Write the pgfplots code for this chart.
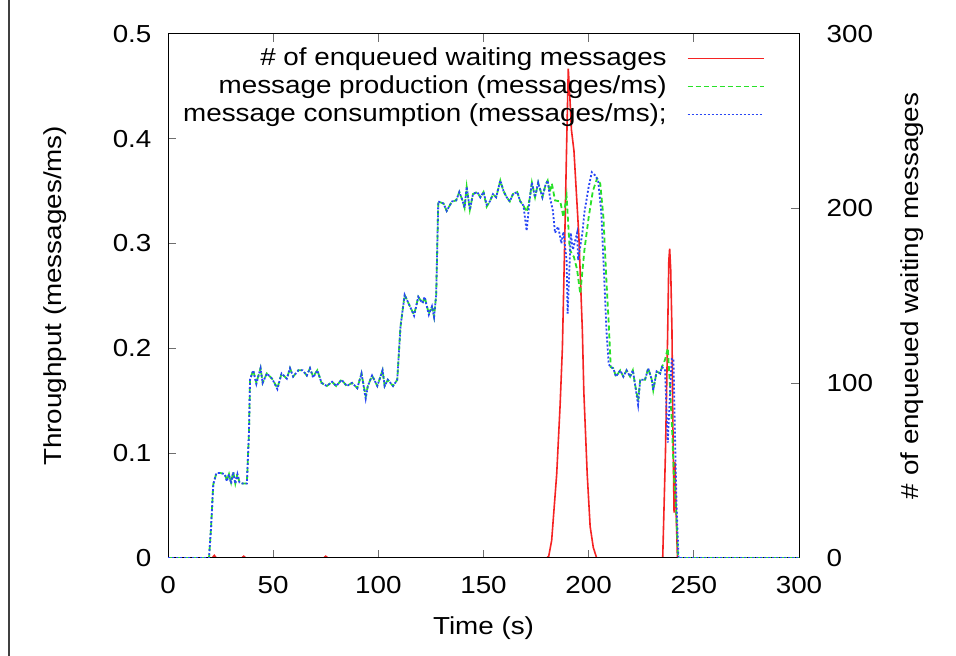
\documentclass[border=0pt]{standalone}
\usepackage{pgfplots}
\usepackage{pgfplotstable}
\pgfplotsset{compat=1.18}
\usepackage{fontspec}
\setmainfont{Liberation Sans}[FakeStretch=1.13]
\definecolor{gred}{RGB}{245,35,35}
\definecolor{ggreen}{RGB}{40,225,40}
\definecolor{gblue}{RGB}{40,70,245}
\definecolor{tickgray}{RGB}{110,110,110}

\pgfplotstableread{
t v
0 0
21 0
22 1.5
23 0
35 0
36 1
37 0
74 0
75 1
76 0
180 0
181 1
182.4 10
184.8 48
186.4 87
187.5 120
188.5 175
189.5 235
190.3 280
191.0 265
191.8 245
193.0 233
195.3 185
197.0 130
197.7 95
199.3 48
200.7 18
202.2 6
203.8 0
235.2 0
236.5 60
237.5 125
238.1 170
238.5 177
239.0 165
239.6 130
240.0 79
240.6 26
241.0 55
241.5 30
242.2 0
300 0
}\queue

\pgfplotstableread{
t v
0 0
19.5 0
20.5 0.03
21.5 0.07
23 0.081
25 0.081
27 0.080
28 0.074
29 0.080
30 0.072
31 0.082
32 0.071
33 0.080
34 0.072
35.5 0.071
37.5 0.071
38.5 0.12
39 0.170
40.5 0.179
42 0.167
44 0.181
45 0.167
47 0.176
49.5 0.171
52 0.162
54 0.176
56.5 0.171
58 0.181
59.5 0.173
62 0.179
64 0.179
66 0.174
67.5 0.181
69 0.173
71 0.179
73 0.167
75.5 0.164
78 0.168
80 0.164
82.5 0.170
85 0.164
87.5 0.167
90 0.162
92 0.176
94 0.154
95 0.164
97 0.174
99.5 0.164
102 0.179
103 0.164
104.5 0.170
107 0.164
109 0.170
110.5 0.22
112.5 0.251
115 0.240
117 0.232
119 0.249
121 0.243
122 0.249
124 0.233
125.5 0.240
126.5 0.230
127.5 0.251
128.5 0.340
131 0.338
132.5 0.331
135 0.340
137 0.341
138.5 0.349
140 0.341
141 0.334
142 0.354
143.5 0.332
145 0.347
147 0.349
148.5 0.344
150 0.349
151.5 0.335
153 0.340
154.5 0.347
156 0.344
158 0.360
159.5 0.350
161 0.344
162.5 0.340
164 0.347
166 0.349
167.5 0.340
169 0.336
170.5 0.330
172 0.343
173 0.358
174.5 0.344
176 0.358
178 0.344
179.5 0.356
180.5 0.360
181.5 0.349
182.5 0.357
184 0.341
186.5 0.340
188 0.325
189.5 0.345
191 0.294
193 0.287
194.5 0.275
196 0.252
198 0.294
200 0.325
202 0.350
204 0.362
205.5 0.357
207 0.325
208.5 0.262
209.5 0.225
210.5 0.182
211.7 0.181
213 0.173
215 0.179
216.5 0.173
218 0.179
219.7 0.173
221 0.179
222 0.166
223.5 0.150
224.5 0.170
226.8 0.170
228.3 0.181
230 0.170
230.7 0.160
232.3 0.178
234 0.176
234.8 0.182
236.3 0.189
237.6 0.200
238.5 0.17
239.5 0.13
240.5 0.08
241.5 0.05
242.5 0
300 0
}\production

\pgfplotstableread{
t v
0 0
19.5 0
20.5 0.03
21.5 0.07
23 0.081
25 0.081
27 0.080
28 0.073
29 0.080
30 0.071
31 0.082
32 0.071
33 0.080
34 0.072
35.5 0.071
37.5 0.071
38.5 0.12
39 0.170
40.5 0.179
42 0.166
44 0.181
45 0.167
47 0.176
49.5 0.171
52 0.161
54 0.176
56.5 0.171
58 0.181
59.5 0.173
62 0.179
64 0.179
66 0.174
67.5 0.181
69 0.172
71 0.179
73 0.167
75.5 0.164
78 0.168
80 0.164
82.5 0.170
85 0.164
87.5 0.167
90 0.162
92 0.176
94 0.152
95 0.164
97 0.174
99.5 0.164
102 0.179
103 0.164
104.5 0.170
107 0.164
109 0.170
110.5 0.22
112.5 0.251
115 0.240
117 0.231
119 0.249
121 0.243
122 0.249
124 0.232
125.5 0.240
126.5 0.230
127.5 0.251
128.5 0.340
131 0.338
132.5 0.331
135 0.340
137 0.341
138.5 0.349
140 0.341
141 0.334
142 0.354
143.5 0.332
145 0.347
147 0.349
148.5 0.344
150 0.349
151.5 0.337
153 0.340
154.5 0.347
156 0.344
158 0.360
159.5 0.350
161 0.344
162.5 0.340
164 0.347
166 0.349
167.5 0.340
169 0.336
170.5 0.312
172 0.343
173 0.358
174.5 0.344
176 0.358
178 0.344
179.5 0.356
180.5 0.360
181.5 0.345
183 0.331
184 0.310
185.5 0.316
187 0.300
188 0.311
189.5 0.284
190 0.233
191.5 0.310
192.5 0.294
194.5 0.310
195 0.284
197 0.310
198 0.330
200 0.354
201.5 0.368
203 0.365
204.5 0.360
206 0.330
207.5 0.262
208.5 0.215
209.5 0.185
210.5 0.182
211.7 0.181
213 0.173
215 0.179
216.5 0.173
218 0.179
219.7 0.173
221 0.179
222 0.166
223.5 0.146
224.5 0.170
226.8 0.170
228.3 0.181
230 0.170
230.7 0.160
232.3 0.178
234 0.176
234.8 0.182
236.3 0.180
237 0.140
237.6 0.110
238.5 0.150
239.5 0.190
240.3 0.190
241 0.120
241.8 0.050
242.7 0
300 0
}\consumption

\begin{document}
\fontsize{12.3}{14}\selectfont
\begin{tikzpicture}
\useasboundingbox (0,0) rectangle (478pt,328pt);
\draw[line width=0.7pt, black!75] (4.5pt,0) -- (4.5pt,328pt);
\pgfplotsset{
  common/.style={
    scale only axis, width=315.5pt, height=262.15pt,
    at={(84pt,49pt)}, anchor=south west,
    xmin=0, xmax=300,
    axis line style={line width=0.5pt, black},
    major tick length=4pt,
    tick style={tickgray, line width=0.5pt},
    tick align=inside,
    /pgf/number format/assume math mode=true,
    every tick label/.append style={font=\fontsize{12.3}{14}\selectfont},
    label style={font=\fontsize{12.3}{14}\selectfont},
  },
}
\begin{axis}[common,
  ymin=0, ymax=300,
  axis y line*=right, axis x line=none,
  ytick={0,100,200,300},
  yticklabel style={xshift=9.5pt},
  ylabel={\# of enqueued waiting messages},
  every axis y label/.style={at={(axis description cs:1.179,0.5)}, rotate=90, anchor=center},
]
\addplot[gred, line width=0.8pt, mark=none] table[x=t, y=v] {\queue};
\end{axis}
\begin{axis}[common,
  ymin=0, ymax=0.5,
  ytick={0,0.1,0.2,0.3,0.4,0.5},
  yticklabels={0,0.1,0.2,0.3,0.4,0.5},
  ytick pos=left,
  xtick={0,50,100,150,200,250,300},
  xtick pos=both,
  yticklabel style={xshift=-4pt},
  xticklabel style={yshift=-5pt},
  xlabel={Time (s)},
  ylabel={Throughput (messages/ms)},
  every axis x label/.style={at={(axis description cs:0.5,-0.1335)}, anchor=center},
  every axis y label/.style={at={(axis description cs:-0.179,0.5)}, rotate=90, anchor=center},
  legend cell align=right,
  legend plot pos=right,
  legend image code/.code={\draw[#1] (0pt,0pt) -- (38pt,0pt);},
  legend style={at={(axis description cs:0.946,0.98)}, anchor=north east,
    draw=none, fill=none, inner sep=0pt, row sep=0pt, column sep=9pt,
    nodes={inner sep=1pt, text height=9.5pt, text depth=2.5pt, font=\fontsize{12.3}{14}\selectfont}},
]
\addlegendimage{color=gred, solid, line width=0.8pt}
\addlegendentry{\# of enqueued waiting messages}
\addplot[color=ggreen, line width=0.9pt, dash pattern=on 2.5pt off 1.5pt, mark=none] table[x=t, y=v] {\production};
\addlegendentry{message production (messages/ms)}
\addplot[color=gblue, line width=0.9pt, dash pattern=on 1pt off 1pt, mark=none] table[x=t, y=v] {\consumption};
\addlegendentry{message consumption (messages/ms);}
\end{axis}
\end{tikzpicture}
\end{document}
